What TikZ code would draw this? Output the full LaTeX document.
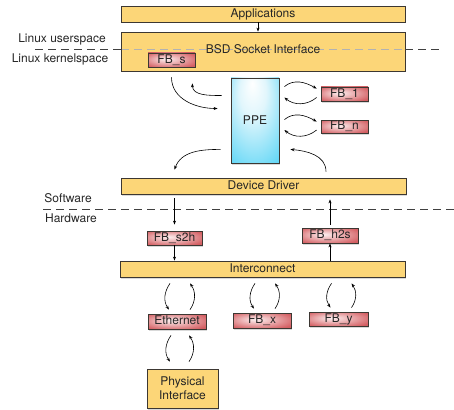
\documentclass[tikz,border=0pt]{standalone}
\usepackage{fontspec}
\setmainfont{TeX Gyre Heros}
\usetikzlibrary{calc,shadows,arrows.meta}

\definecolor{boxorange}{RGB}{252,214,120}
\definecolor{boxred}{RGB}{212,96,100}
\definecolor{fbpink}{RGB}{253,240,240}
\definecolor{ppecyan}{RGB}{70,208,245}
\definecolor{ppelite}{RGB}{225,246,252}
\definecolor{edge}{RGB}{60,55,50}

\pgfdeclareradialshading{fbglow}{\pgfpoint{-6bp}{4bp}}{color(0bp)=(fbpink);
  color(8bp)=(fbpink!75!boxred); color(32bp)=(boxred); color(50bp)=(boxred!88!black)}
\pgfdeclareradialshading{ppeglow}{\pgfpoint{-3bp}{22bp}}{color(0bp)=(white);
  color(14bp)=(ppelite); color(46bp)=(ppecyan); color(60bp)=(ppecyan)}

\begin{document}
\begin{tikzpicture}[x=1pt, y=1pt, >={Stealth[length=4pt, width=3pt]},
    every node/.style={font=\fontsize{12}{14}\selectfont, text=black!85, inner sep=0pt},
    boxshadow/.style={drop shadow={shadow xshift=1pt, shadow yshift=-1.5pt, opacity=0.3}},
    strip/.style={draw=edge, line width=0.8pt, fill=boxorange, boxshadow, text height=8.6pt, text depth=2.3pt},
    fbbox/.style={draw=edge, line width=0.8pt, shading=fbglow, boxshadow, text height=8.6pt, text depth=2.3pt},
    sep/.style={dash pattern=on 8pt off 5pt, line width=0.7pt, black!75},
    sepin/.style={dash pattern=on 8pt off 5pt, line width=0.7pt, black!30},
    flow/.style={->, line width=0.6pt}]
  \useasboundingbox (0,0) rectangle (454,-409);

  % software side
  \node[strip, minimum width=284pt, minimum height=16pt] (apps) at (263,-14) {Applications};
  \node[strip, minimum width=284pt, minimum height=39pt, text depth=5.3pt,
        path picture={\draw[sepin] ([yshift=2.5pt]path picture bounding box.west)
                                 -- ([yshift=2.5pt]path picture bounding box.east);}]
    (bsd) at (263,-51.5) {BSD Socket Interface};
  \node[fbbox, minimum width=47pt, minimum height=14pt] (fbs) at (171.5,-60) {FB\_s};
  \node[draw=edge, line width=0.8pt, shading=ppeglow, boxshadow,
        minimum width=48pt, minimum height=85pt] (ppe) at (255,-120.5) {PPE};
  \node[fbbox, minimum width=47pt, minimum height=14pt] (fb1) at (344.5,-94) {FB\_1};
  \node[fbbox, minimum width=47pt, minimum height=13pt] (fbn) at (344.5,-126.5) {FB\_n};
  \node[strip, minimum width=285pt, minimum height=16pt] (drv) at (263.5,-186) {Device Driver};

  % hardware side
  \node[fbbox, minimum width=55pt, minimum height=14pt] (s2h) at (174.5,-238) {FB\_s2h};
  \node[fbbox, minimum width=56pt, minimum height=15pt] (h2s) at (330,-235.5) {FB\_h2s};
  \node[strip, minimum width=285pt, minimum height=16pt] (ic) at (262.5,-269) {Interconnect};
  \node[fbbox, minimum width=58pt, minimum height=15pt] (eth) at (177,-321.5) {Ethernet};
  \node[fbbox, minimum width=58pt, minimum height=15pt] (fbx) at (262,-320.5) {FB\_x};
  \node[fbbox, minimum width=59pt, minimum height=14pt] (fby) at (338.5,-319) {FB\_y};
  \node[strip, minimum width=71pt, minimum height=39pt, align=center, text height=, text depth=]
    (phy) at (182.5,-388.5) {Physical\\Interface};

  % layer labels
  \node (usr) at (62,-39) {Linux userspace};
  \node (krn) at (60,-59) {Linux kernelspace};
  \node (sw) at (68,-198) {Software};
  \node (hw) at (71,-218) {Hardware};

  % separators
  \coordinate (usl) at (35,-49);
  \coordinate (usre) at (443,-49);
  \draw[sep] (usl) -- (usl -| bsd.west);
  \draw[sep] (usl -| bsd.east) -- (usre);
  \coordinate (hwl) at (43,-209);
  \coordinate (hwr) at (454,-209);
  \draw[sep] (hwl) -- (hwr);

  % applications to socket
  \draw[flow] ([xshift=-5pt]apps.south) -- ([xshift=-5pt]bsd.north);

  % socket and ppe
  \draw[flow] ($(fbs.south |- bsd.south)+(0,-6)$) to[out=-90, in=180]
    ([xshift=-13pt, yshift=12pt]ppe.west);
  \draw[flow] ([xshift=-9pt, yshift=25pt]ppe.west) to[out=180, in=-90]
    ($(fbs.east |- bsd.south)+(-3,-12)$);

  % ppe and buffers
  \foreach \b in {fb1, fbn} {
    \draw[flow] ([xshift=5pt]ppe.east |- \b.north) to[out=40, in=150]
      ([xshift=-4pt, yshift=-2pt]\b.north west);
    \draw[flow] ([xshift=-4pt, yshift=-3.5pt]\b.west) to[out=220, in=-40]
      ([xshift=5pt, yshift=-3.5pt]ppe.east |- \b.west);
  }

  % ppe and driver
  \draw[flow] ([xshift=-10pt, yshift=14pt]ppe.south west) to[out=180, in=70]
    ($(s2h.north |- drv.north)+(0,8)$);
  \draw[flow] ($(h2s.north |- drv.north)+(-4,6)$) to[out=90, in=-5]
    ([xshift=11pt, yshift=14pt]ppe.south east);

  % driver and hardware buffers
  \draw[flow, shorten <=4pt, shorten >=6pt] (s2h.north |- drv.south) -- (s2h.north);
  \draw[flow] (s2h.south) -- (s2h.south |- ic.north);
  \draw[flow] (h2s.south |- ic.north) -- (h2s.south);
  \draw[flow, shorten <=3pt, shorten >=5pt] (h2s.north) -- (h2s.north |- drv.south);

  % interconnect and devices
  \foreach \d in {eth, fbx, fby} {
    \draw[flow] ([xshift=-7pt, yshift=-6pt]ic.south -| \d.north) to[out=-125, in=125]
      ([xshift=-8pt, yshift=4pt]\d.north);
    \draw[flow] ([xshift=13pt, yshift=4pt]\d.north) to[out=55, in=-55]
      ([xshift=13pt, yshift=-6pt]ic.south -| \d.north);
  }

  % ethernet and physical interface
  \draw[flow] ([xshift=-6pt, yshift=-6pt]eth.south) to[out=-125, in=125]
    ([xshift=-7pt, yshift=7pt]phy.north -| eth.south);
  \draw[flow] ([xshift=12pt, yshift=7pt]phy.north -| eth.south) to[out=55, in=-55]
    ([xshift=12pt, yshift=-6pt]eth.south);
\end{tikzpicture}
\end{document}
